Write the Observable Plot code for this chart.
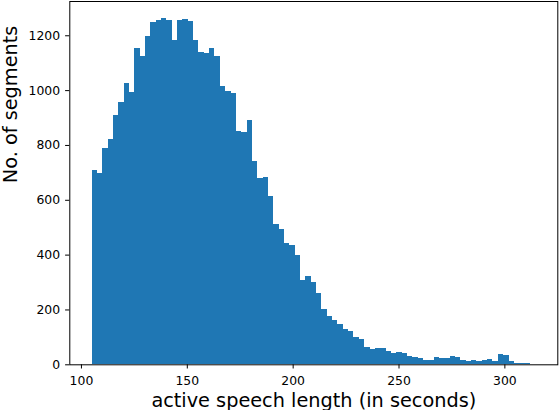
<!DOCTYPE html>
<html><head><meta charset="utf-8">
<script src="https://cdn.jsdelivr.net/npm/d3@7"></script>
<script src="https://cdn.jsdelivr.net/npm/@observablehq/plot@0.6"></script>
<style>body{margin:0;background:#fff}</style>
</head><body><div id="chart"></div>
<script>
// Histogram data
const binStart = 105;
const binWidth = 2.525;
const counts = [
  708, 697, 788, 821, 909, 956, 1025, 992, 1153, 1124,
  1196, 1248, 1255, 1262, 1255, 1182, 1255, 1258, 1251, 1182,
  1138, 1134, 1153, 1124, 1014, 996, 989, 850, 846, 890,
  741, 679, 683, 613, 511, 493, 442, 435, 398, 307,
  322, 300, 260, 202, 176, 161, 147, 129, 121, 99,
  92, 63, 56, 59, 59, 48, 41, 45, 41, 30,
  27, 23, 16, 16, 27, 23, 23, 30, 27, 16,
  12, 16, 12, 16, 19, 12, 38, 34, 12, 4,
  4, 4
];
const xTicks = [100, 150, 200, 250, 300];
const yTicks = [0, 200, 400, 600, 800, 1000, 1200];
const xLabel = "active speech length (in seconds)";
const yLabel = "No. of segments";

const bins = counts.map((c, i) => ({
  x1: binStart + i * binWidth,
  x2: binStart + (i + 1) * binWidth,
  count: c
}));

const chart = Plot.plot({
  width: 560,
  height: 410,
  marginLeft: 69.3,
  marginRight: 2.7,
  marginTop: 1,
  marginBottom: 45.7,
  style: {fontFamily: "DejaVu Sans", fontSize: "12px", background: "#fff", color: "#000"},
  x: {domain: [94.5, 325]},
  y: {domain: [0, 1325]},
  marks: [
    Plot.rectY(bins, {x1: "x1", x2: "x2", y: "count", fill: "#1f77b4", inset: 0, shapeRendering: "crispEdges"}),
    Plot.frame({stroke: "#000", strokeWidth: 1}),
    Plot.axisX({ticks: xTicks, tickFormat: d => String(d), tickSize: 4.2, tickPadding: 6.8, label: null, fontSize: 12.4, strokeWidth: 1}),
    Plot.axisY({ticks: yTicks, tickFormat: d => String(d), tickSize: 4.2, tickPadding: 5.5, label: null, fontSize: 12.4, strokeWidth: 1}),
    Plot.text([xLabel], {text: d => d, frameAnchor: "bottom", lineAnchor: "middle", dy: 36, fontSize: 19.3, fill: "#000"}),
    Plot.text([yLabel], {text: d => d, frameAnchor: "left", lineAnchor: "middle", dx: -59.3, rotate: -90, fontSize: 19.3, fill: "#000"})
  ]
});
document.getElementById("chart").appendChild(chart);
</script>
</body></html>
